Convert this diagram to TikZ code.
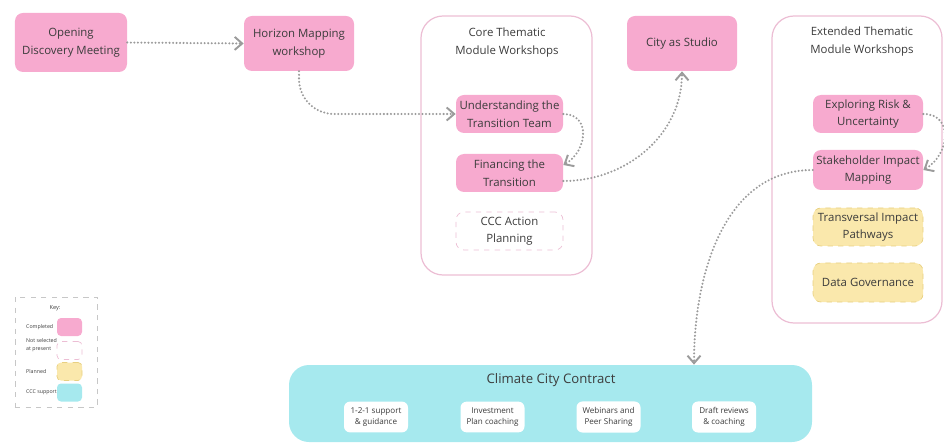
\documentclass[tikz,border=0pt]{standalone}
\usepackage{fontspec}
\setmainfont{Open Sans}
\usetikzlibrary{arrows.meta}

\definecolor{donepink}{RGB}{247,170,207}
\definecolor{framepink}{RGB}{236,190,212}
\definecolor{planyellow}{RGB}{250,232,172}
\definecolor{planedge}{RGB}{232,208,128}
\definecolor{ccccyan}{RGB}{166,233,238}
\definecolor{flowgray}{RGB}{155,155,155}
\definecolor{txtgray}{RGB}{60,60,60}

\tikzset{
  box/.style={rounded corners=1.6mm, align=center, text=txtgray,
    font=\fontsize{6.5}{10}\selectfont, inner sep=1pt},
  done/.style={box, fill=donepink},
  planned/.style={box, fill=planyellow, draw=planedge, dashed, line width=0.4pt},
  notsel/.style={box, draw=framepink, dashed, line width=0.4pt},
  frame/.style={draw=framepink, line width=0.7pt, rounded corners=4.4mm},
  support/.style={rounded corners=1.2mm, fill=white, align=center, text=txtgray,
    font=\fontsize{4.6}{6.4}\selectfont, minimum width=12.8mm, minimum height=5.6mm},
  swatch/.style={rounded corners=0.8mm, minimum width=5mm, minimum height=3.6mm},
  keytxt/.style={anchor=west, align=left, text=txtgray, font=\fontsize{3}{4.4}\selectfont},
  flow/.style={draw=flowgray, line width=1.3pt, line cap=round,
    dash pattern=on 0pt off 2pt,
    -{Straight Barb[length=1.5mm,width=2.6mm,line width=1.1pt]}},
}

\begin{document}
\begin{tikzpicture}[x=0.2mm,y=-0.2mm]
  \useasboundingbox (0,0) rectangle (944,444);

  % first meetings
  \node[done, minimum width=22.4mm, minimum height=11.8mm] (odm) at (71,42.5) {Opening\\Discovery Meeting};
  \node[done, minimum width=22mm, minimum height=11mm] (hmw) at (299,43.5) {Horizon Mapping\\workshop};

  % core modules
  \node[frame, minimum width=34.2mm, minimum height=51.8mm] (core) at (506.5,145.5) {};
  \node[box] (coret) at (507,42.5) {Core Thematic\\Module Workshops};
  \node[done, minimum width=21.4mm, minimum height=7.6mm] (und) at (509.5,114) {Understanding the\\Transition Team};
  \node[done, minimum width=21.4mm, minimum height=7.6mm] (fin) at (509.5,173) {Financing the\\Transition};
  \node[notsel, minimum width=21.4mm, minimum height=7.6mm] (cap) at (509.5,231) {CCC Action\\Planning};

  \node[done, minimum width=22mm, minimum height=11mm] (cas) at (682,43.5) {City as Studio};

  % extended modules
  \node[frame, minimum width=34mm, minimum height=61.4mm] (ext) at (857,169.5) {};
  \node[box] (extt) at (862,41.5) {Extended Thematic\\Module Workshops};
  \node[done, minimum width=22mm, minimum height=7.6mm] (ers) at (868,114) {Exploring Risk \&\\Uncertainty};
  \node[done, minimum width=22mm, minimum height=8mm] (shm) at (868,170) {Stakeholder Impact\\Mapping};
  \node[planned, minimum width=22mm, minimum height=7.6mm] (tip) at (868,227) {Transversal Impact\\Pathways};
  \node[planned, minimum width=22mm, minimum height=7.8mm] (dg) at (868,282.5) {Data Governance};

  % climate city contract
  \node[fill=ccccyan, rounded corners=4mm, minimum width=104.6mm, minimum height=15.4mm] (ccc) at (550.5,403.5) {};
  \node[text=txtgray, font=\fontsize{7.5}{9}\selectfont] (ccct) at (551,380) {Climate City Contract};
  \node[support] (s1) at (376,417) {1-2-1 support\\\& guidance};
  \node[support] (s2) at (492.5,417) {Investment\\Plan coaching};
  \node[support] (s3) at (608.5,417) {Webinars and\\Peer Sharing};
  \node[support] (s4) at (724,417) {Draft reviews\\\& coaching};

  % key
  \node[draw=black!22, dashed, line width=0.5pt, minimum width=16.4mm, minimum height=22mm] (key) at (56,352) {};
  \node[text=txtgray, font=\fontsize{3.2}{4}\selectfont] (keyt) at (55,308) {Key:};
  \node[swatch, fill=donepink] (k1) at (69.5,327) {};
  \node[swatch, draw=framepink, dashed, line width=0.4pt] (k2) at (69.5,350.5) {};
  \node[swatch, fill=planyellow, draw=planedge, dashed, line width=0.4pt] (k3) at (69.5,371.5) {};
  \node[swatch, fill=ccccyan] (k4) at (69.5,392.5) {};
  \node[keytxt] (k1t) at (20,327) {Completed};
  \node[keytxt] (k2t) at (20,345) {Not selected\\at present};
  \node[keytxt] (k3t) at (20,371.5) {Planned};
  \node[keytxt] (k4t) at (20,392.5) {CCC support};

  % connectors
  \draw[flow] (odm.east) -- (hmw.west);
  \draw[flow, rounded corners=7mm] (hmw.south) |- (und.west);
  \draw[flow] (und.east) to[out=0, in=30, looseness=1.4] ([yshift=1.6mm]fin.east);
  \draw[flow] ([yshift=-1.6mm]fin.east) to[out=0, in=-90] (cas.south);
  \draw[flow] (ers.east) to[out=0, in=30, looseness=1.4] (shm.east);
  \draw[flow] (shm.west) to[out=180, in=90] ([xshift=28.7mm]ccc.north);
\end{tikzpicture}
\end{document}
